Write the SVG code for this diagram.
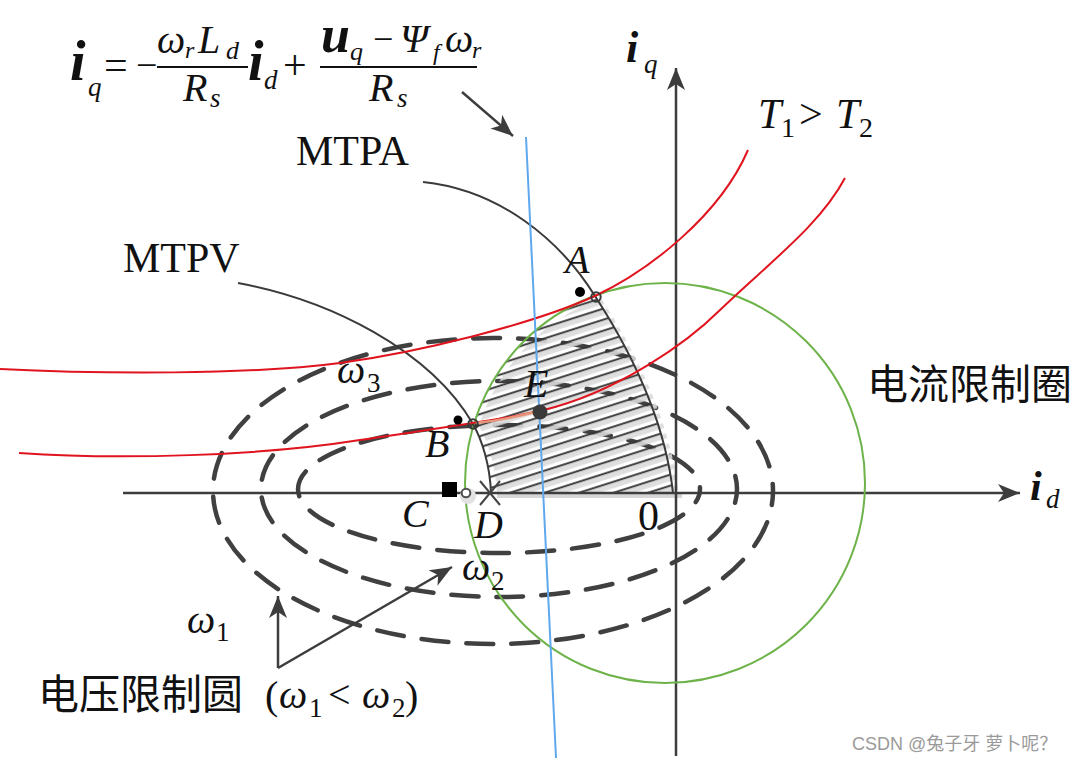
<svg xmlns="http://www.w3.org/2000/svg" xmlns:xlink="http://www.w3.org/1999/xlink" width="1080" height="761" viewBox="0 0 1080 761">
<style>
.m{font-family:"Liberation Serif","Times New Roman",serif;fill:#111}
.it{font-style:italic}
.bi{font-style:italic;font-weight:bold}
.cjk{font-family:"Noto Sans CJK SC","Noto Sans CJK JP",sans-serif;fill:#111}
.ax{stroke:#3d3d3d;stroke-width:2.5;fill:none}
.ell{stroke:#404040;stroke-width:4.5;fill:none;stroke-dasharray:27 18;stroke-linecap:round}
.curve{stroke:#3a3a3a;stroke-width:2;fill:none}
.red{stroke:#e0141e;stroke-width:2;fill:none}
.ptr{stroke:#3d3d3d;stroke-width:2.5;fill:none}
</style>
<defs>
<marker id="arr" markerUnits="userSpaceOnUse" markerWidth="24" markerHeight="20" refX="22" refY="9" orient="auto">
<path d="M0,0 L22,9 L0,18 L6,9 Z" fill="#3d3d3d"/>
</marker>
<pattern id="hatchDark" patternUnits="userSpaceOnUse" width="40" height="10.5" patternTransform="rotate(-17.7)">
<line x1="0" y1="5" x2="40" y2="5" stroke="#333" stroke-width="2"/>
</pattern>
<pattern id="hatchGrey" patternUnits="userSpaceOnUse" width="40" height="10.5" patternTransform="rotate(-17.7)">
<line x1="0" y1="5" x2="40" y2="5" stroke="#dadada" stroke-width="5"/>
</pattern>
<path id="region" d="M 595 296 A 200 200 0 0 0 473 424 C 482 440 490 465 491 493 L 673 493 C 665 420 630 350 595 296 Z"/>
</defs>
<rect width="1080" height="761" fill="#fff"/>

<g id="voltage-ellipses">
<ellipse class="ell" cx="493" cy="491" rx="280" ry="153" stroke-dashoffset="13"/>
<ellipse class="ell" cx="499" cy="489" rx="238" ry="108" stroke-dashoffset="13"/>
<ellipse class="ell" cx="499" cy="489" rx="201" ry="64" stroke-dashoffset="13"/>
</g>

<g id="hatch-region">
<use xlink:href="#region" href="#region" fill="url(#hatchGrey)" transform="translate(6,2)" opacity="0.9"/>
<use xlink:href="#region" href="#region" fill="url(#hatchDark)"/>
<line x1="497" y1="496" x2="682" y2="496" stroke="#d6d6d6" stroke-width="4"/>
</g>

<g id="axes">
<line class="ax" x1="123" y1="493" x2="1020" y2="493" marker-end="url(#arr)"/>
<line class="ax" x1="676" y1="756" x2="676" y2="68" marker-end="url(#arr)"/>
</g>

<g id="current-limit-circle">
<circle cx="665" cy="483" r="200" fill="none" stroke="#6db34a" stroke-width="2"/>
</g>

<g id="mtpa">
<path class="curve" d="M 423 182 C 500 190 560 240 595 296 C 630 350 665 420 673 493"/>
</g>
<g id="mtpv">
<path class="curve" d="M 238 283 C 330 300 430 350 473 424 C 482 440 490 465 491 493"/>
</g>

<g id="torque-curves">
<path class="red" d="M 0 369 C 100 374 250 375 340 363 C 420 352 530 325 595 296 C 650 270 720 215 748 150"/>
<path class="red" d="M 19 453 C 120 460 260 456 360 440 C 440 428 500 420 540 411 C 620 392 690 340 720 310 C 770 262 820 225 845 178"/>
<path d="M 476 423 C 495 421 520 416 540 411" stroke="#e9957a" stroke-width="2.5" fill="none"/>
</g>

<g id="voltage-line">
<line x1="526" y1="137" x2="556" y2="758" stroke="#5fa8ec" stroke-width="2"/>
</g>

<g id="connectors">
<line class="ptr" x1="462" y1="92" x2="513" y2="136" marker-end="url(#arr)"/>
<polyline class="ptr" points="278,668 452,567" marker-end="url(#arr)"/>
<line class="ptr" x1="278" y1="668" x2="278" y2="596" marker-end="url(#arr)"/>
</g>

<g id="points">
<g id="point-A">
<circle cx="580" cy="292" r="5" fill="#000"/>
<circle cx="596" cy="297" r="4.7" fill="none" stroke="#3a3a3a" stroke-width="2"/>
</g>
<g id="point-B">
<circle cx="458" cy="420" r="4.5" fill="#000"/>
<circle cx="473" cy="424" r="4.7" fill="none" stroke="#3a3a3a" stroke-width="2"/>
</g>
<g id="point-C">
<rect x="442" y="482" width="15" height="15" fill="#000"/>
<circle cx="468" cy="496" r="8" fill="#e2e2e2"/>
<circle cx="466" cy="493" r="4.3" fill="#fff" stroke="#505050" stroke-width="2"/>
</g>
<g id="point-D">
<path d="M 480 481 L 500 505 M 500 481 L 480 505" stroke="#444" stroke-width="2" fill="none"/>
</g>
<g id="point-E">
<circle cx="540" cy="412" r="7.5" fill="#3a3a3a"/>
</g>
</g>

<g id="formula">
<text class="m bi" x="70" y="80" font-size="56">i</text>
<text class="m it" x="88" y="96" font-size="27">q</text>
<text class="m" x="104" y="79" font-size="42">=</text>
<text class="m" x="136" y="78" font-size="38">−</text>
<line x1="157" y1="67" x2="248" y2="67" stroke="#111" stroke-width="2"/>
<text class="m it" x="157" y="53" font-size="40">ω</text>
<text class="m it" x="185" y="58" font-size="24">r</text>
<text class="m it" x="198" y="53" font-size="40">L</text>
<text class="m it" x="226" y="59" font-size="26">d</text>
<text class="m it" x="183" y="101" font-size="40">R</text>
<text class="m it" x="210" y="107" font-size="27">s</text>
<text class="m bi" x="248" y="80" font-size="56">i</text>
<text class="m it" x="264" y="89" font-size="27">d</text>
<text class="m" x="283" y="79" font-size="42">+</text>
<line x1="320" y1="67" x2="477" y2="67" stroke="#111" stroke-width="2"/>
<text class="m bi" x="321" y="52" font-size="52">u</text>
<text class="m it" x="350" y="60" font-size="26">q</text>
<text class="m" x="373" y="51" font-size="36">−</text>
<text class="m it" x="400" y="52" font-size="40">Ψ</text>
<text class="m it" x="433" y="60" font-size="24">f</text>
<text class="m it" x="445" y="52" font-size="40">ω</text>
<text class="m it" x="472" y="58" font-size="24">r</text>
<text class="m it" x="369" y="101" font-size="40">R</text>
<text class="m it" x="397" y="107" font-size="27">s</text>
</g>

<g id="labels">
<text class="m bi" x="626" y="62" font-size="44">i</text>
<text class="m it" x="644" y="73" font-size="27">q</text>
<text class="m bi" x="1030" y="500" font-size="42">i</text>
<text class="m it" x="1046" y="508" font-size="27">d</text>

<text class="m" x="296" y="165" font-size="42">MTPA</text>
<text class="m" x="123" y="272" font-size="42">MTPV</text>

<text class="m it" x="758" y="128" font-size="42">T</text>
<text class="m" x="781" y="137" font-size="28">1</text>
<text class="m" x="799" y="128" font-size="42">&gt;</text>
<text class="m it" x="836" y="128" font-size="42">T</text>
<text class="m" x="859" y="137" font-size="28">2</text>

<text class="m it" x="565" y="273" font-size="40">A</text>
<text class="m it" x="425" y="457" font-size="40">B</text>
<text class="m it" x="402" y="527" font-size="40">C</text>
<text class="m it" x="474" y="538" font-size="40">D</text>
<text class="m it" x="524" y="397" font-size="40">E</text>
<text class="m" x="638" y="530" font-size="42">0</text>

<text class="m it" x="337" y="383" font-size="40">ω</text>
<text class="m" x="367" y="392" font-size="27">3</text>
<text class="m it" x="462" y="580" font-size="40">ω</text>
<text class="m" x="491" y="590" font-size="27">2</text>
<text class="m it" x="187" y="633" font-size="40">ω</text>
<text class="m" x="216" y="641" font-size="27">1</text>

<text class="cjk" x="38" y="709" font-size="41">电压限制圆</text>
<text class="m" x="265" y="709" font-size="40">(</text>
<text class="m it" x="279" y="708" font-size="40">ω</text>
<text class="m" x="309" y="717" font-size="27">1</text>
<text class="m" x="328" y="708" font-size="40">&lt;</text>
<text class="m it" x="362" y="708" font-size="40">ω</text>
<text class="m" x="392" y="717" font-size="27">2</text>
<text class="m" x="405" y="709" font-size="40">)</text>

<text class="cjk" x="867" y="399" font-size="41">电流限制圈</text>

<text x="852" y="750" font-size="18" font-family="Liberation Sans, Noto Sans CJK SC, sans-serif" fill="#9a9a9a">CSDN @兔子牙 萝卜呢？</text>
</g>
</svg>
